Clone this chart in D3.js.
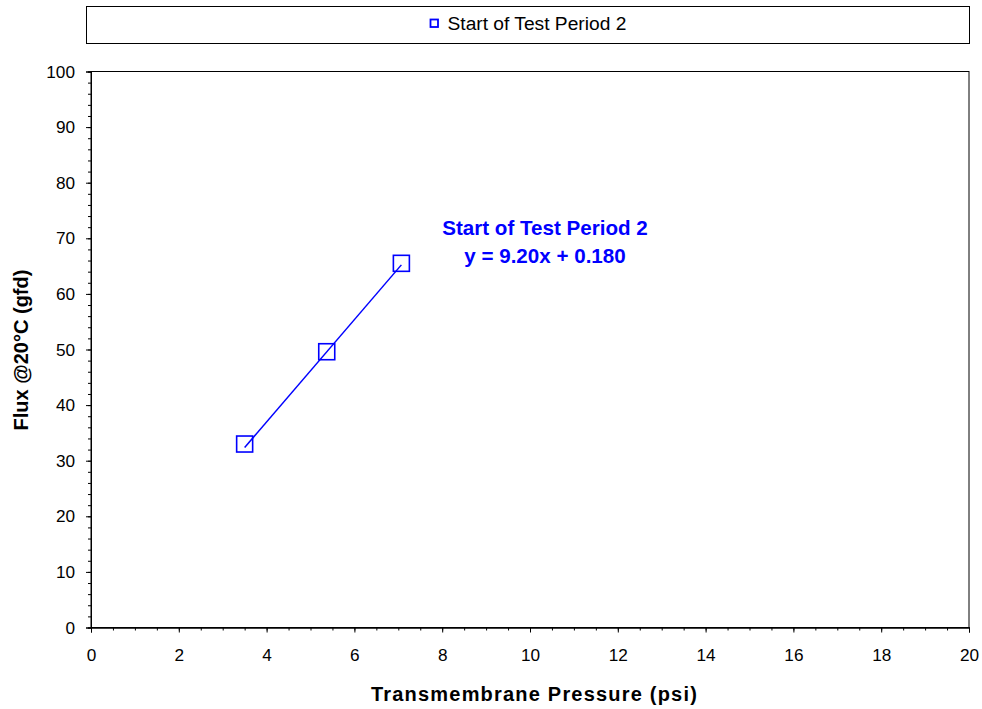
<!DOCTYPE html>
<html><head><meta charset="utf-8">
<script src="https://cdn.jsdelivr.net/npm/d3@7"></script>
<style>body{margin:0;background:#fff;} text{font-family:"Liberation Sans",Arial,sans-serif;}</style>
</head><body>
<svg id="c" width="982" height="709"></svg>
<script>
const seriesName = "Start of Test Period 2";
const pressure = [3.5, 5.37, 7.07];
const flux = [33.0, 49.6, 65.5];
const trendX = [3.5, 7.07];
const trendY = [32.38, 65.22];
const equationLabel = "y = 9.20x + 0.180";
const xTicks = [0,2,4,6,8,10,12,14,16,18,20];
const yTicks = [0,10,20,30,40,50,60,70,80,90,100];

const svg = d3.select("#c");
const L=91, R=969, T=71.5, B=627.5;
const x = d3.scaleLinear().domain([0,20]).range([L,R]);
const y = d3.scaleLinear().domain([0,100]).range([B,T]);
const blue = "#0000ff";

// legend box
svg.append("rect").attr("x",86.5).attr("y",6.5).attr("width",883).attr("height",37)
  .attr("fill","#fff").attr("stroke","#000").attr("stroke-width",1);
svg.append("rect").attr("x",430.5).attr("y",19.5).attr("width",7.5).attr("height",7.5)
  .attr("fill","none").attr("stroke",blue).attr("stroke-width",1.8);
svg.append("text").attr("x",447.5).attr("y",29.5).attr("font-size",19.2).text(seriesName);

// plot frame
svg.append("rect").attr("x",L).attr("y",T).attr("width",R-L).attr("height",B-T)
  .attr("fill","none").attr("stroke","#000").attr("stroke-width",1);

// axes
const xAxis = d3.axisBottom(x).tickValues(xTicks).tickSize(5).tickPadding(16).tickFormat(d3.format("d"));
const xMinor = d3.axisBottom(x).tickValues(d3.range(0,20.01,0.5)).tickSize(3).tickFormat("");
const yAxis = d3.axisLeft(y).tickValues(yTicks).tickSize(5).tickPadding(11).tickFormat(d3.format("d"));
const yMinor = d3.axisLeft(y).tickValues(d3.range(0,100.01,2)).tickSize(3).tickFormat("");

function style(g){
  g.select(".domain").attr("stroke","#000");
  g.selectAll(".tick line").attr("stroke","#000");
  g.selectAll("text").attr("font-size",17.2).attr("fill","#000").attr("font-family","Liberation Sans, Arial, sans-serif");
}
svg.append("g").attr("transform",`translate(0,${B})`).call(xMinor).call(style);
svg.append("g").attr("transform",`translate(0,${B})`).call(xAxis).call(style);
svg.append("g").attr("transform",`translate(${L},0)`).call(yMinor).call(style);
svg.append("g").attr("transform",`translate(${L},0)`).call(yAxis).call(style);

// trend line
const tl = trendX.map((d,i)=>[d,trendY[i]]);
svg.append("path").datum(tl)
  .attr("d", d3.line().x(d=>x(d[0])).y(d=>y(d[1])))
  .attr("stroke",blue).attr("stroke-width",1.5).attr("fill","none");

// markers
const pts = pressure.map((d,i)=>[d,flux[i]]);
svg.selectAll("rect.m").data(pts).enter().append("rect").attr("class","m")
  .attr("x",d=>x(d[0])-8).attr("y",d=>y(d[1])-8).attr("width",16).attr("height",16)
  .attr("fill","none").attr("stroke",blue).attr("stroke-width",1.6);

// annotation
svg.append("text").attr("x",545).attr("y",235).attr("text-anchor","middle")
  .attr("font-size",20.6).attr("font-weight","bold").attr("fill",blue).text(seriesName);
svg.append("text").attr("x",545).attr("y",263).attr("text-anchor","middle")
  .attr("font-size",20.6).attr("font-weight","bold").attr("fill",blue).text(equationLabel);

// axis titles
svg.append("text").attr("x",534.5).attr("y",701).attr("text-anchor","middle")
  .attr("font-size",20).attr("font-weight","bold").attr("letter-spacing","1.2px").text("Transmembrane Pressure (psi)");
svg.append("text").attr("transform","translate(28,350) rotate(-90)").attr("text-anchor","middle")
  .attr("font-size",20).attr("font-weight","bold").text("Flux @20°C (gfd)");
</script>
</body></html>
